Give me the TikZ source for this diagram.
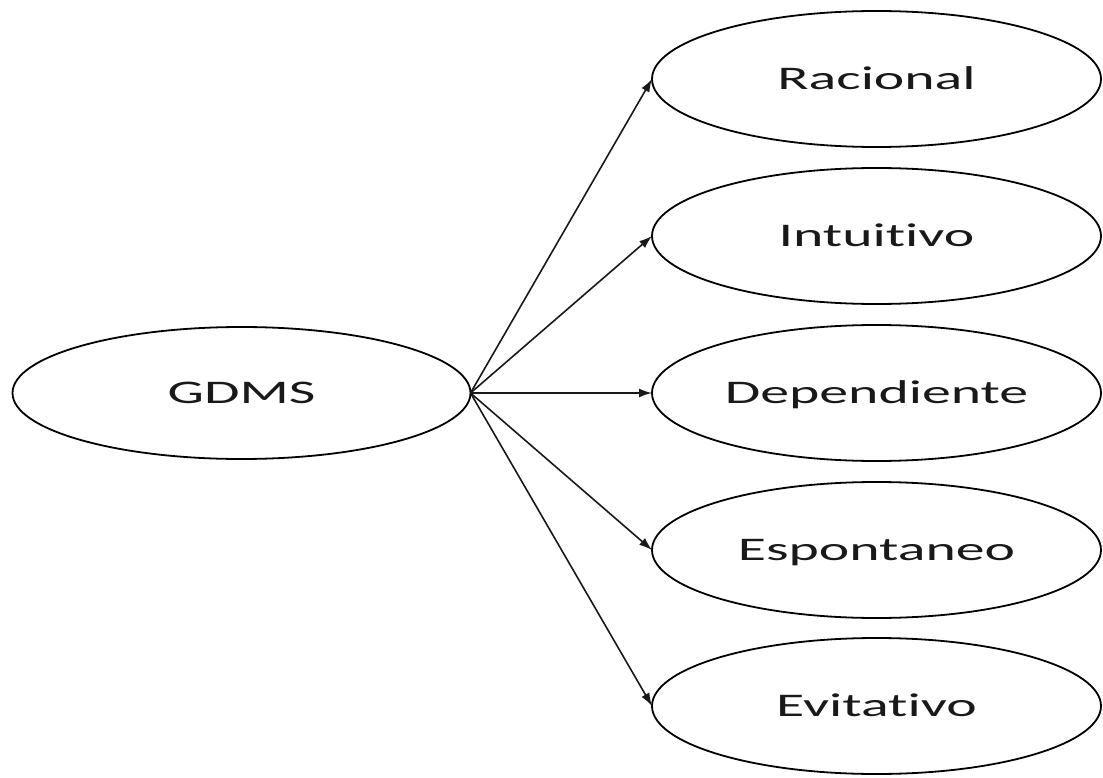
\documentclass[tikz,border=0pt]{standalone}
\usepackage{fontspec}
\newfontfamily\lblfont{Carlito}[FakeStretch=1.75, Ligatures=NoCommon]
\usetikzlibrary{shapes.geometric,arrows.meta}

\tikzset{
  oval/.style={ellipse, draw=black, line width=1.8pt, inner sep=0pt, outer sep=0pt,
    minimum width=449pt, minimum height=136pt,
    font=\lblfont\fontsize{33pt}{33pt}\selectfont, text=black!90,
    text height=21.3pt, text depth=0pt},
  link/.style={draw=black!90, line width=1.6pt, -{Latex[length=13pt,width=9pt]}}
}

\begin{document}
\begin{tikzpicture}[x=1pt, y=-1pt]
  \useasboundingbox (0,0) rectangle (1103,778);

  % root
  \node[oval, minimum width=458pt, minimum height=132pt] (gdms) at (241.5,393) {GDMS};

  % styles
  \node[oval] (rac) at (876.5,79)  {Racional};
  \node[oval] (int) at (876.5,236) {Intuitivo};
  \node[oval] (dep) at (876.5,393) {Dependiente};
  \node[oval] (esp) at (876.5,550) {Espontaneo};
  \node[oval] (evi) at (876.5,706) {Evitativo};

  % connectors
  \foreach \t in {rac,int,dep,esp,evi}
    \draw[link] (gdms.east) -- (\t.west);
\end{tikzpicture}
\end{document}
